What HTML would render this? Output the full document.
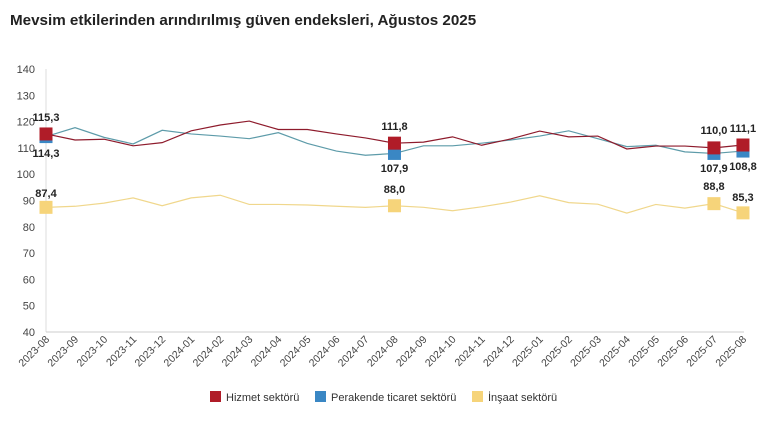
<!DOCTYPE html>
<html><head><meta charset="utf-8"><style>
body{margin:0;background:#fff;}
svg text{font-family:"Liberation Sans",sans-serif;}
</style></head><body>
<svg width="770" height="441" viewBox="0 0 770 441" xmlns="http://www.w3.org/2000/svg">
<text x="10" y="25" font-size="15.2" font-weight="bold" fill="#222">Mevsim etkilerinden arındırılmış güven endeksleri, Ağustos 2025</text>
<g id="g"></g>
<script>
const ns="http://www.w3.org/2000/svg",g=document.getElementById('g');
function el(t,a,txt){const e=document.createElementNS(ns,t);for(const k in a)e.setAttribute(k,a[k]);if(txt!==undefined)e.textContent=txt;g.appendChild(e);return e;}
const X=i=>46+i*29.04, Y=v=>69+(140-v)*2.63;
el('line',{x1:46,y1:Y(140),x2:46,y2:Y(40),stroke:'#ddd'});
el('line',{x1:46,y1:Y(40),x2:744,y2:Y(40),stroke:'#ccc'});
for(let v=40;v<=140;v+=10)el('text',{x:35,y:Y(v)+4,'font-size':11,'text-anchor':'end',fill:'#444'},v);
const labs=[];for(let i=0;i<25;i++){let y=2023,m=8+i;while(m>12){m-=12;y++;}labs.push(y+'-'+String(m).padStart(2,'0'));}
labs.forEach((l,i)=>{el('text',{x:X(i)+4,y:340,'font-size':10.5,'text-anchor':'end',fill:'#444',transform:`rotate(-45 ${X(i)+4} 340)`},l);});
const R=[115.3,113,113.3,110.8,112,116.5,118.7,120.2,117,117,115.3,113.8,111.8,112.2,114.2,111,113.4,116.4,114.2,114.5,109.6,110.7,110.7,110.0,111.1];
const B=[114.3,117.7,114,111.5,116.7,115.3,114.5,113.5,115.8,111.7,108.8,107.2,107.9,110.8,110.8,111.8,113,114.5,116.5,113.5,110.5,111,108.5,107.9,108.8];
const Yl=[87.4,87.8,89,91,88,91,92,88.5,88.5,88.3,87.8,87.4,88.0,87.4,86.1,87.6,89.4,91.8,89.2,88.6,85.2,88.5,87.1,88.8,85.3];
function line(d,c){el('polyline',{points:d.map((v,i)=>X(i)+','+Y(v)).join(' '),fill:'none',stroke:c,'stroke-width':1.2});}
line(Yl,'#f0d78c');line(B,'#5d9ba9');line(R,'#8e1b2c');
const pts=[0,12,23,24];
function sq(d,c){pts.forEach(i=>el('rect',{x:X(i)-6.5,y:Y(d[i])-6.5,width:13,height:13,fill:c}));}
sq(Yl,'#f6d47a');sq(B,'#3a87c4');sq(R,'#b01c28');
function lab(x,y,t){el('text',{x:x,y:y,'font-size':11,'font-weight':'bold','text-anchor':'middle',fill:'#222'},t);}
lab(X(0),121,'115,3');lab(X(0),157,'114,3');lab(X(0),197,'87,4');
lab(X(12),130,'111,8');lab(X(12),172,'107,9');lab(X(12),193,'88,0');
lab(X(23),134,'110,0');lab(X(23),172,'107,9');lab(X(23),190,'88,8');
lab(X(24),132,'111,1');lab(X(24),170,'108,8');lab(X(24),201,'85,3');
[[210,'#b01c28','Hizmet sektörü'],[315,'#3a87c4','Perakende ticaret sektörü'],[472,'#f6d47a','İnşaat sektörü']].forEach(([x,c,t])=>{el('rect',{x:x,y:391,width:11,height:11,fill:c});el('text',{x:x+16,y:401,'font-size':11,fill:'#333'},t);});
</script>
</svg>
</body></html>
